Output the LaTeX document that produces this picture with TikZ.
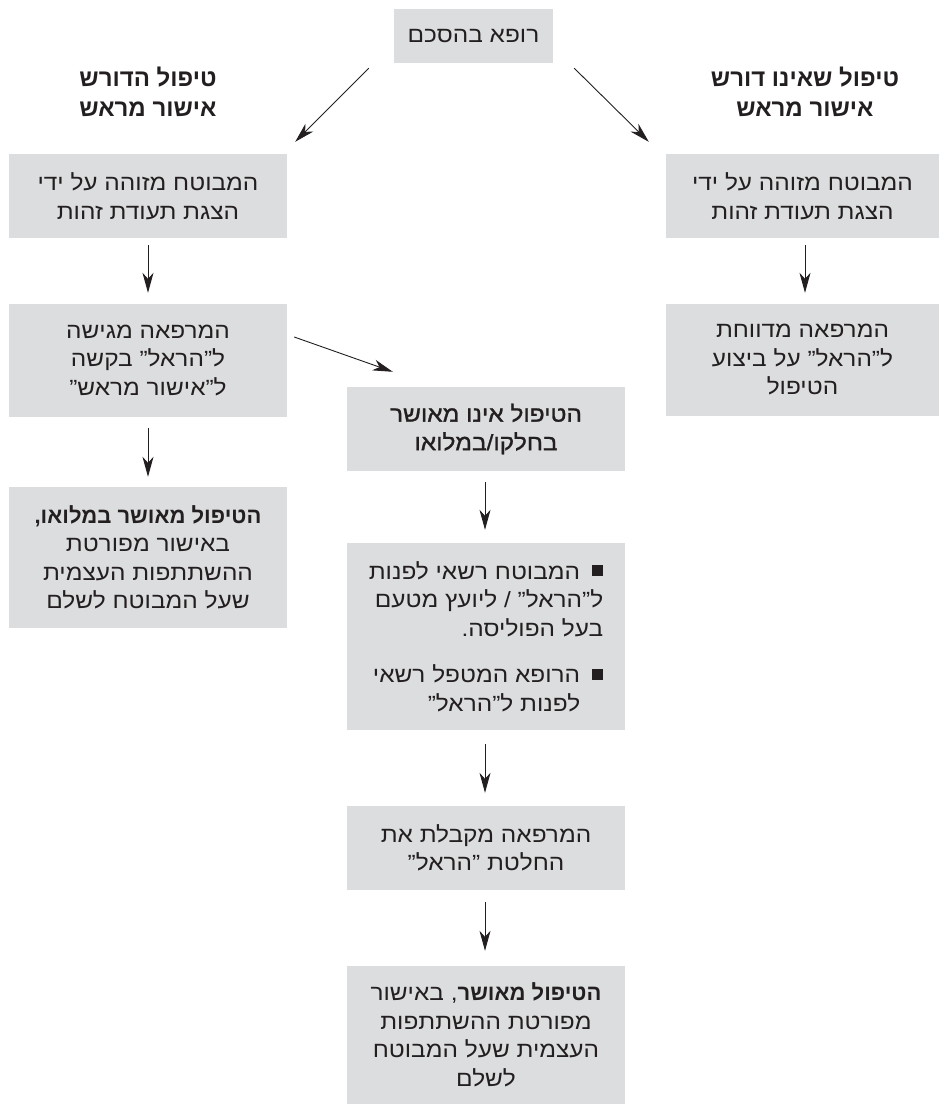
\documentclass[tikz,border=0pt]{standalone}
\usepackage{fontspec}
\setmainfont{Liberation Sans}
\newfontfamily\he[Script=Hebrew, FakeStretch=1.11]{Liberation Sans}
\newfontfamily\hemed[Script=Hebrew, FakeStretch=1.11, FakeBold=1.2]{Liberation Sans}
\newfontfamily\hebd[Script=Hebrew]{Liberation Sans Bold}
\TeXXeTstate=1
\usetikzlibrary{arrows.meta,calc}
\definecolor{boxgray}{HTML}{DCDDDE}
\definecolor{ink}{HTML}{231F20}
\newcommand{\heb}[1]{\beginR #1\endR}
\newcommand{\hb}[1]{{\hebd #1}}
\newcommand{\bul}{\raisebox{3pt}{\rule{11pt}{11pt}}\hspace{12pt}}
\begin{document}
\begin{tikzpicture}[x=1pt,y=-1pt,
  box/.style={fill=boxgray, inner sep=0pt, align=center, text=ink,
    font=\he\fontsize{22}{28.5}\selectfont},
  head/.style={font=\hebd\fontsize{24}{30}\selectfont, align=center, text=ink},
  arr/.style={draw=ink, line width=0.9pt, -{Stealth[length=20pt,width=11pt,inset=6pt]}}]
\useasboundingbox (0,0) rectangle (939,1105);

% top
\node[box, minimum width=159pt, minimum height=54pt] (top) at (473.5,36) {\heb{רופא בהסכם}};

% headings
\node[head] (hL) at (148,92) {\heb{טיפול הדורש}\\\heb{אישור מראש}};
\node[head] (hR) at (805,92) {\heb{טיפול שאינו דורש}\\\heb{אישור מראש}};

% left column
\node[box, minimum width=278pt, minimum height=84pt] (L1) at (148,196)
  {\heb{המבוטח מזוהה על ידי}\\\heb{הצגת תעודת זהות}};
\node[box, minimum width=278pt, minimum height=113pt] (L2) at (148,360.5)
  {\heb{המרפאה מגישה}\\\heb{ל”הראל” בקשה}\\\heb{ל”אישור מראש”}};
\node[box, minimum width=278pt, minimum height=141pt] (L3) at (148,557.5)
  {\heb{\hb{הטיפול מאושר במלואו,}}\\\heb{באישור מפורטת}\\\heb{ההשתתפות העצמית}\\\heb{שעל המבוטח לשלם}};

% right column
\node[box, minimum width=273pt, minimum height=84pt] (R1) at (802.5,196)
  {\heb{המבוטח מזוהה על ידי}\\\heb{הצגת תעודת זהות}};
\node[box, minimum width=273pt, minimum height=112pt] (R2) at (802.5,360)
  {\heb{המרפאה מדווחת}\\\heb{ל”הראל” על ביצוע}\\\heb{הטיפול}};

% middle column
\node[box, minimum width=278pt, minimum height=84pt, font=\hemed\fontsize{22}{28.5}\selectfont] (M1) at (486,429)
  {\heb{הטיפול אינו מאושר}\\\heb{בחלקו/במלואו}};
\node[box, minimum width=278pt, minimum height=187pt, align=right] (M2) at (486,636.5)
  {\heb{\bul המבוטח רשאי לפנות}\\
   \heb{ל”הראל” / ליועץ מטעם}\hspace*{23pt}\\
   \heb{בעל הפוליסה.}\hspace*{23pt}\\[18pt]
   \heb{\bul הרופא המטפל רשאי}\\
   \heb{לפנות ל”הראל”}\hspace*{23pt}};
\node[box, minimum width=278pt, minimum height=84pt] (M3) at (486,848)
  {\heb{המרפאה מקבלת את}\\\heb{החלטת ”הראל”}};
\node[box, minimum width=278pt, minimum height=138pt] (M4) at (486,1035)
  {\heb{\hb{הטיפול מאושר}, באישור}\\\heb{מפורטת ההשתתפות}\\\heb{העצמית שעל המבוטח}\\\heb{לשלם}};

% connectors
\coordinate (a1s) at ($(top.south west)+(-25,5)$);
\coordinate (a1e) at ($(L1.north east)+(8,-12)$);
\coordinate (a2s) at ($(top.south east)+(21,5)$);
\coordinate (a2e) at ($(R1.north west)+(-17,-12)$);
\draw[arr] (a1s) -- (a1e);
\draw[arr] (a2s) -- (a2e);
\draw[arr] ($(L1.south)+(0,7)$) -- ($(L2.north)+(0,-11)$);
\draw[arr] ($(L2.south)+(0,11)$) -- ($(L3.north)+(0,-10)$);
\draw[arr] ($(R1.south)+(2.5,7)$) -- ($(R2.north)+(2.5,-11)$);
\draw[arr] ($(L2.east)+(7,-23.5)$) -- ($(M1.north west)+(46,-15)$);
\draw[arr] ($(M1.south)+(-1,11)$) -- ($(M2.north)+(-1,-13)$);
\draw[arr] ($(M2.south)+(-1,14)$) -- ($(M3.north)+(-1,-13)$);
\draw[arr] ($(M3.south)+(-1,12)$) -- ($(M4.north)+(-1,-15)$);
\end{tikzpicture}
\end{document}
